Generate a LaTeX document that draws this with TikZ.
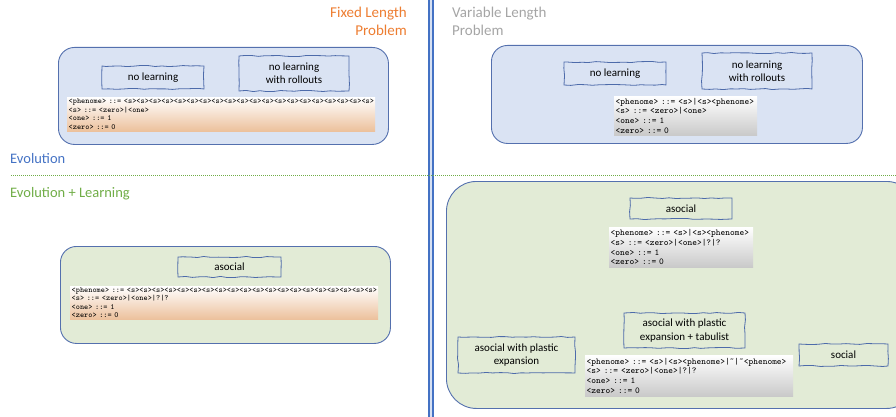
\documentclass[tikz,border=0pt]{standalone}
\usepackage{fontspec}
\setmainfont{Carlito}
\usetikzlibrary{decorations.pathmorphing}
\definecolor{cOrange}{HTML}{ED7D31}
\definecolor{cGray}{HTML}{A5A5A5}
\definecolor{cBlue}{HTML}{4472C4}
\definecolor{cGreen}{HTML}{70AD47}
\definecolor{boxLine}{HTML}{5470AE}
\definecolor{fillBlue}{HTML}{DAE3F3}
\definecolor{fillGreen}{HTML}{E2EBD6}
\definecolor{sketchLine}{HTML}{4D6BAA}
\definecolor{orG}{HTML}{EBBD96}
\definecolor{grG}{HTML}{C6C6C6}
\pgfdeclareverticalshading{orshade}{100bp}{color(0bp)=(orG!80!white); color(22bp)=(orG); color(75bp)=(white); color(100bp)=(white)}
\pgfdeclareverticalshading{grshade}{100bp}{color(0bp)=(grG!70!white); color(22bp)=(grG); color(75bp)=(white); color(100bp)=(white)}
\tikzset{
  container/.style={draw=boxLine, line width=0.9pt, rounded corners=16pt, anchor=north west, inner sep=0pt},
  sketchbox/.style={draw=sketchLine, line width=0.8pt, align=center, inner sep=0pt,
     font=\fontsize{11}{13.3}\selectfont,
     decorate, decoration={random steps, segment length=7pt, amplitude=0.6pt}},
  grammar/.style={anchor=north west, inner xsep=1.5pt, inner ysep=0pt, align=left},
  title/.style={inner sep=0pt, font=\fontsize{15}{18}\selectfont},
}
\begin{document}
\begin{tikzpicture}[x=1pt,y=-1pt]
\pgfmathsetmacro{\dummyseed}{0}
\pgfmathsetseed{7}
\useasboundingbox (0,0) rectangle (896,417);
\clip (0,0) rectangle (896,417);
% separators
\draw[cBlue, line width=2pt, double=cBlue!22, double distance=2.6pt] (431,0) -- (431,417);
\draw[cGreen, line width=0.8pt, dash pattern=on 0.9pt off 1.1pt] (11,175) -- (896,175);
% titles
\node[title, text=cOrange, align=right, anchor=north east] (tFixed) at (407,6.5) {Fixed Length\\Problem};
\node[title, text=cGray, align=left, anchor=north west] (tVar) at (452,6.5) {Variable Length\\Problem};
\node[title, text=cBlue, anchor=base west, font=\fontsize{14.5}{17}\selectfont] (tEvo) at (10,163) {Evolution};
\node[title, text=cGreen, anchor=base west, font=\fontsize{14.5}{17}\selectfont] (tEvoL) at (10,197) {Evolution + Learning};
% containers
\node[container, fill=fillBlue, minimum width=330pt, minimum height=97pt] (cTL) at (58,47) {};
\node[container, fill=fillBlue, minimum width=371pt, minimum height=98pt] (cTR) at (491,45) {};
\node[container, fill=fillGreen, minimum width=330pt, minimum height=97pt] (cBL) at (60,246) {};
\node[container, fill=fillGreen, rounded corners=30pt, minimum width=470pt, minimum height=227pt] (cBR) at (446,181) {};
% sketch boxes
\node[sketchbox, minimum width=102pt, minimum height=23pt] (tlNo) at (153,77.5) {no learning};
\node[sketchbox, minimum width=110pt, minimum height=35pt] (tlRoll) at (294,73.5) {no learning\\with rollouts};
\node[sketchbox, minimum width=102pt, minimum height=23pt] (trNo) at (615,73.5) {no learning};
\node[sketchbox, minimum width=110pt, minimum height=36pt] (trRoll) at (757,71) {no learning\\with rollouts};
\node[sketchbox, minimum width=103pt, minimum height=20pt] (blAs) at (229.5,267) {asocial};
\node[sketchbox, minimum width=102pt, minimum height=21pt] (brAs) at (681,208.5) {asocial};
\node[sketchbox, minimum width=121pt, minimum height=35pt] (brTabu) at (684.5,330.5) {asocial with plastic\\expansion + tabulist};
\node[sketchbox, minimum width=117pt, minimum height=36pt] (brPlast) at (516.5,355) {asocial with plastic\\expansion};
\node[sketchbox, minimum width=89pt, minimum height=22pt] (brSoc) at (843.5,355) {social};
% grammars
\node[grammar, shading=orshade, minimum width=308pt, minimum height=34pt, text width=305pt,
      font=\fontsize{7.85}{8.4}\ttfamily] (gTL) at (67,97)
 {<phenome> ::= <s><s><s><s><s><s><s><s><s><s><s><s><s><s><s><s><s><s><s><s>\\<s> ::= <zero>|<one>\\<one> ::= 1\\<zero> ::= 0};
\node[grammar, shading=grshade, minimum width=143pt, minimum height=39pt, text width=140pt,
      font=\fontsize{9}{9.6}\ttfamily] (gTR) at (614,96)
 {<phenome> ::= <s>|<s><phenome>\\<s> ::= <zero>|<one>\\<one> ::= 1\\<zero> ::= 0};
\node[grammar, shading=orshade, minimum width=308pt, minimum height=33pt, text width=305pt,
      font=\fontsize{7.85}{8.2}\ttfamily] (gBL) at (70,286)
 {<phenome> ::= <s><s><s><s><s><s><s><s><s><s><s><s><s><s><s><s><s><s><s><s>\\<s> ::= <zero>|<one>|?|?\\<one> ::= 1\\<zero> ::= 0};
\node[grammar, shading=grshade, minimum width=144pt, minimum height=40pt, text width=141pt,
      font=\fontsize{9}{9.6}\ttfamily] (gBR1) at (609,227)
 {<phenome> ::= <s>|<s><phenome>\\<s> ::= <zero>|<one>|?|?\\<one> ::= 1\\<zero> ::= 0};
\node[grammar, shading=grshade, minimum width=208pt, minimum height=41pt, text width=205pt,
      font=\fontsize{9}{9.6}\ttfamily] (gBR2) at (585,355)
 {<phenome> ::= <s>|<s><phenome>|\char"02DC|\char"02DC<phenome>\\<s> ::= <zero>|<one>|?|?\\<one> ::= 1\\<zero> ::= 0};
\end{tikzpicture}
\end{document}
